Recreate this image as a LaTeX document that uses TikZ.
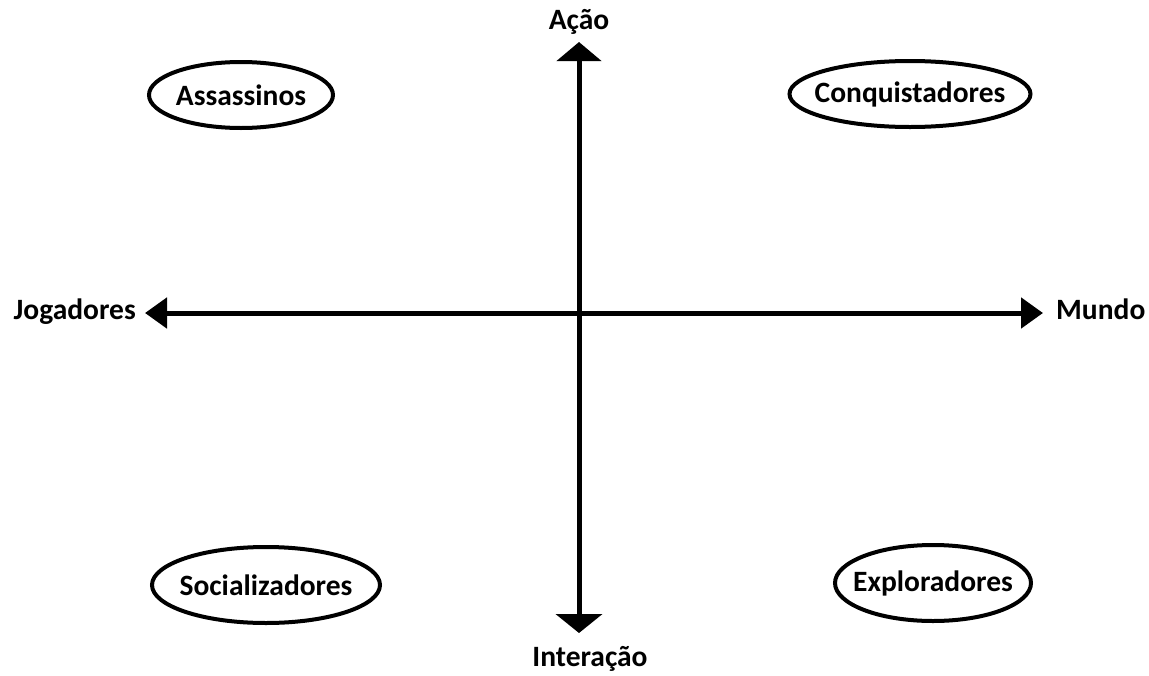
\documentclass[tikz,border=0pt]{standalone}
\usepackage{fontspec}
\setmainfont{Carlito}
\usepackage{tikz}
\usetikzlibrary{shapes,arrows.meta}
\usetikzlibrary{positioning}

\begin{document}
\begin{tikzpicture}[x=1pt,y=-1pt,
        perfil/.style={ellipse, draw=black, line width=4pt, inner xsep=-12pt, inner ysep=0pt, font=\fontsize{29.5}{34}\selectfont\bfseries},
        rotulo/.style={inner sep=0pt, text height=20pt, text depth=7pt, font=\fontsize{29.5}{34}\selectfont\bfseries},
        eixoV/.style={line width=5pt, {Triangle[length=19pt,width=44pt]}-{Triangle[length=19pt,width=46pt]}},
        eixoH/.style={line width=5pt, {Triangle[length=22pt,width=30pt]}-{Triangle[length=22pt,width=30pt]}}]
            \useasboundingbox (0,0) rectangle (1149,675);
            \coordinate (tipN) at (579,42);
            \coordinate (tipS) at (579,633);
            \coordinate (tipW) at (145,313);
            \coordinate (tipE) at (1043,313);
            \node[rotulo, above=5pt of tipN] (acao) {Ação};
            \node[rotulo, below=13pt of tipS, xshift=11pt] (interacao) {Interação};
            \node[rotulo, left=9pt of tipW] (jogadores) {Jogadores};
            \node[rotulo, right=13pt of tipE] (mundo) {Mundo};
            \node[perfil, minimum width=184pt, minimum height=66pt] (assassinos) at (241,95) {Assassinos};
            \node[perfil, minimum width=241pt, minimum height=66pt] (conquistadores) at (910,94) {Conquistadores};
            \node[perfil, minimum width=228pt, minimum height=76pt] (socializadores) at (266,585) {Socializadores};
            \node[perfil, minimum width=196pt, minimum height=76pt] (exploradores) at (933,583) {Exploradores};
            \draw[eixoV] (tipN) -- (tipS);
            \draw[eixoH] (tipW) -- (tipE);
        \end{tikzpicture}
\end{document}
